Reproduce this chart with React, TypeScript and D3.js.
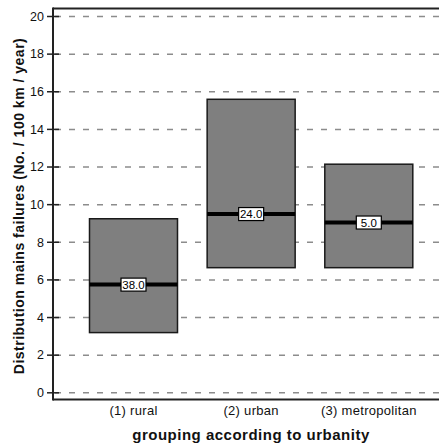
import React from 'react';
import { scaleLinear, scalePoint, range } from 'd3';

// chart values
const categories = ['(1) rural', '(2) urban', '(3) metropolitan'];
const lowerValues = [3.2, 6.65, 6.65];
const upperValues = [9.25, 15.6, 12.15];
const medianValues = [5.75, 9.5, 9.05];
const countLabels = ['38.0', '24.0', '5.0'];
const yTicks = range(0, 21, 2);

const W = 439;
const H = 443;
const left = 53;
const top = 8.5;
const bottom = 399.5;
const font = 'Liberation Sans, Arial, sans-serif';

export default function App() {
  const y = scaleLinear().domain([0, 20]).range([392.8, 16.5]);
  const x = scalePoint().domain(categories).range([133.5, 368.8]);
  const boxW = 88;

  return (
    <svg width={W} height={H} style={{ position: 'absolute', left: 0, top: 0, display: 'block' }}>
      <rect width={W} height={H} fill="#fff" />
      {/* gridlines */}
      {yTicks.map(t => (
        <line key={t} x1={left + 2} x2={W} y1={y(t)} y2={y(t)}
          stroke="#8c8c8c" strokeWidth={1.5} strokeDasharray="6,8" />
      ))}
      {/* boxes */}
      {categories.map((c, i) => {
        const cx = x(c) as number;
        const med = y(medianValues[i]);
        return (
          <g key={c}>
            <rect x={cx - boxW / 2} y={y(upperValues[i])} width={boxW}
              height={y(lowerValues[i]) - y(upperValues[i])}
              fill="#7f7f7f" stroke="#1a1a1a" strokeWidth={1.5} />
            <line x1={cx - boxW / 2} x2={cx + boxW / 2} y1={med} y2={med}
              stroke="#000" strokeWidth={4} />
            <rect x={cx - 12.5} y={med - 6.5} width={25} height={13}
              fill="#fff" stroke="#000" strokeWidth={1.2} />
            <text x={cx} y={med + 4.2} textAnchor="middle" fontFamily={font} fontSize={11.5} fill="#000">
              {countLabels[i]}
            </text>
          </g>
        );
      })}
      {/* frame */}
      <line x1={left} x2={W} y1={top} y2={top} stroke="#222" strokeWidth={2} />
      <line x1={left} x2={W} y1={bottom} y2={bottom} stroke="#222" strokeWidth={2} />
      <line x1={left} x2={left} y1={top - 1} y2={bottom + 1} stroke="#222" strokeWidth={2} />
      {/* y ticks */}
      {yTicks.map(t => (
        <g key={t}>
          <line x1={left - 6} x2={left + 6} y1={y(t)} y2={y(t)} stroke="#222" strokeWidth={1.5} />
          <text x={44} y={y(t) + 4.3} textAnchor="end" fontFamily={font} fontSize={12.5} fill="#111">{t}</text>
        </g>
      ))}
      {/* x labels */}
      {categories.map(c => (
        <text key={c} x={x(c) as number} y={415} textAnchor="middle" fontFamily={font} fontSize={13}
          letterSpacing={0.3} fill="#111">{c}</text>
      ))}
      <text x={251} y={440} textAnchor="middle" fontFamily={font} fontSize={15} fontWeight="bold"
        letterSpacing={0.5} fill="#111">
        grouping according to urbanity
      </text>
      <text transform="translate(23.5,206) rotate(-90)" textAnchor="middle" fontFamily={font}
        fontSize={14} fontWeight="bold" letterSpacing={0.5} fill="#111">
        Distribution mains failures (No. / 100 km / year)
      </text>
    </svg>
  );
}
